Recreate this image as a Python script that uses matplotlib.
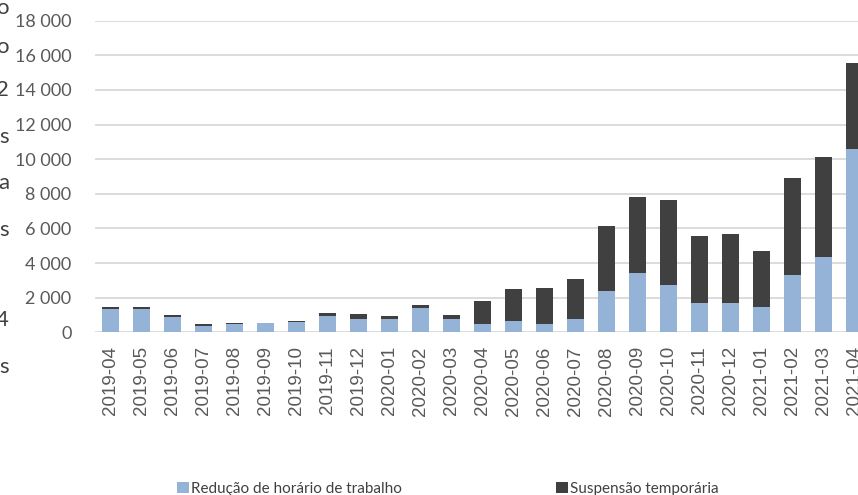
import matplotlib
matplotlib.use("Agg")
import matplotlib.pyplot as plt
from matplotlib.patches import Patch
import numpy as np

categories = ["2019-04", "2019-05", "2019-06", "2019-07", "2019-08", "2019-09",
              "2019-10", "2019-11", "2019-12", "2020-01", "2020-02", "2020-03",
              "2020-04", "2020-05", "2020-06", "2020-07", "2020-08", "2020-09",
              "2020-10", "2020-11", "2020-12", "2021-01", "2021-02", "2021-03",
              "2021-04"]
reducao = [1340, 1350, 910, 390, 470, 510, 600, 970, 770, 770, 1390, 790,
           480, 670, 500, 770, 2370, 3410, 2730, 1690, 1680, 1460, 3330, 4370,
           10600]
suspensao = [120, 100, 90, 70, 50, 30, 70, 130, 310, 155, 205, 210,
             1310, 1850, 2060, 2330, 3760, 4390, 4910, 3860, 3990, 3250, 5570, 5760,
             4950]
yticks = [0, 2000, 4000, 6000, 8000, 10000, 12000, 14000, 16000, 18000]
legend_labels = ["Redução de horário de trabalho", "Suspensão temporária"]
edge_fragments = ["o", "o", "2", "s", "a", "s", "4", "s"]

W, H = 858, 495
fig = plt.figure(figsize=(W / 100, H / 100), dpi=100)
left_px, right_px = 95, 95 + 25 * 31
top_px, bottom_px = 20.7, 332.3
ax = fig.add_axes([left_px / W, 1 - bottom_px / H,
                   (right_px - left_px) / W, (bottom_px - top_px) / H])

blue = "#95B3D7"
dark = "#404040"
x = np.arange(len(categories))
ax.bar(x, reducao, width=0.55, color=blue, zorder=3)
ax.bar(x, suspensao, width=0.55, bottom=reducao, color=dark, zorder=3)

ax.set_xlim(-0.5, len(categories) - 0.5)
ax.set_ylim(0, 18000)
ax.set_yticks(yticks)
ax.set_yticklabels([f"{v:,}".replace(",", " ") for v in yticks],
                   fontsize=13, color="#595959", family="Lato")
ax.set_xticks(x)
ax.set_xticklabels(categories, rotation=90, fontsize=13.5, color="#595959",
                   family="Liberation Sans")
ax.tick_params(axis="both", length=0)
ax.tick_params(axis="y", pad=17)
ax.tick_params(axis="x", pad=10)
ax.yaxis.grid(True, color="#D9D9D9", linewidth=1.3, zorder=0)
ax.set_axisbelow(True)
for s in ax.spines.values():
    s.set_visible(False)

# legend entries
handles = [Patch(facecolor=blue, edgecolor="none"),
           Patch(facecolor=dark, edgecolor="none")]
fig.legend(handles, legend_labels, loc="center", ncol=2,
           bbox_to_anchor=(448 / W, 1 - 489 / H), frameon=False,
           prop={"family": "Lato", "size": 11}, labelcolor="#404040",
           handlelength=0.75, handleheight=0.75, handletextpad=0.15,
           columnspacing=10.1)

# cut-off text fragments at the left edge
frag_y = [8, 47, 90, 137, 183, 230, 320, 367]
for ch, yy in zip(edge_fragments, frag_y):
    fig.text(9 / W, 1 - yy / H, ch, ha="right", va="center",
             fontsize=16, color="#404040", family="Lato")

fig.savefig("out.png", dpi=100)
